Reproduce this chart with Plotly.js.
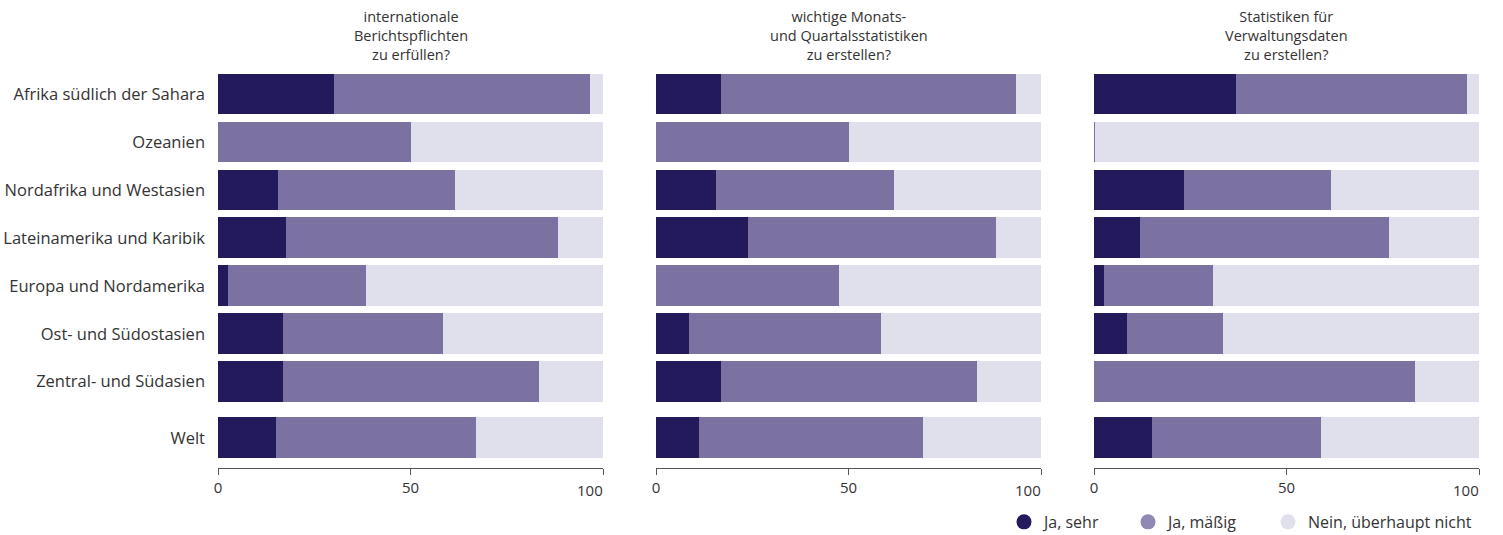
<!DOCTYPE html>
<html>
<head>
<meta charset="utf-8">
<script src="https://cdn.plot.ly/plotly-3.0.1.min.js"></script>
<style>html,body{margin:0;padding:0;background:#fff;}#chart{width:1503px;height:535px;}</style>
</head>
<body>
<div id="chart"></div>
<script>
const categories = ["Afrika südlich der Sahara","Ozeanien","Nordafrika und Westasien","Lateinamerika und Karibik","Europa und Nordamerika","Ost- und Südostasien","Zentral- und Südasien","Welt"];
const seriesNames = ["Ja, sehr","Ja, mäßig","Nein, überhaupt nicht"];
const panelTitles = [
  ["internationale","Berichtspflichten","zu erfüllen?"],
  ["wichtige Monats-","und Quartalsstatistiken","zu erstellen?"],
  ["Statistiken für","Verwaltungsdaten","zu erstellen?"]
];
const xTickVals = [0, 50, 100];

// Panel 1: internationale Berichtspflichten
const p1Sehr   = [30.1, 0.0, 15.6, 17.7, 2.6, 16.9, 16.9, 15.1];
const p1Maessig= [66.5, 50.1, 46.0, 70.6, 35.8, 41.5, 66.5, 51.9];
const p1Nein   = [3.4, 49.9, 38.4, 11.7, 61.6, 41.6, 16.6, 33.0];
// Panel 2: Monats- und Quartalsstatistiken
const p2Sehr   = [16.9, 0.0, 15.6, 23.9, 0.0, 8.6, 16.9, 11.2];
const p2Maessig= [76.6, 50.1, 46.2, 64.4, 47.5, 49.8, 66.5, 58.2];
const p2Nein   = [6.5, 49.9, 38.2, 11.7, 52.5, 41.6, 16.6, 30.6];
// Panel 3: Verwaltungsdaten
const p3Sehr   = [36.9, 0.0, 23.4, 11.9, 2.6, 8.6, 0.0, 15.1];
const p3Maessig= [60.0, 0.3, 38.2, 64.7, 28.3, 24.9, 83.4, 43.9];
const p3Nein   = [3.1, 99.7, 38.4, 23.4, 69.1, 66.5, 16.6, 41.0];

const colors = ["#231a5b","#7c72a2","#e0dfec"];
const legendColors = ["#231a5b","#9088b5","#e0dfec"];
const FONT = "'Open Sans', 'Noto Sans', sans-serif";
const TXT = "#333333";

// layout geometry (pixels)
const ML = 218, MR = 24, MT = 69.5, MB = 67;
const FIG_W = 1503, FIG_H = 535;
const W = FIG_W - ML - MR, H = FIG_H - MT - MB;

// y positions: index, with a small extra gap before "Welt"
const yPos = categories.map((c,i) => i + (c === "Welt" ? 0.17 : 0));

const panels = [[p1Sehr,p1Maessig,p1Nein],[p2Sehr,p2Maessig,p2Nein],[p3Sehr,p3Maessig,p3Nein]];
const xaxes = ["x","x2","x3"];
const traces = [];
panels.forEach((series, pi) => {
  series.forEach((vals, si) => {
    traces.push({
      type: "bar", orientation: "h",
      x: vals, y: yPos,
      xaxis: xaxes[pi], yaxis: "y",
      name: seriesNames[si],
      marker: {color: colors[si], line: {width: 0}},
      width: 0.85,
      showlegend: false,
      hoverinfo: "x+name"
    });
  });
});
// legend entries with circle markers, one legend per entry for exact placement
const legendIds = ["legend","legend2","legend3"];
const legendMarkerPx = [1024, 1148, 1288];
seriesNames.forEach((n, si) => {
  traces.push({
    type: "scatter", mode: "markers", x: [null], y: [null],
    xaxis: "x3", yaxis: "y",
    name: n, marker: {color: legendColors[si], size: 15, symbol: "circle"},
    showlegend: true, legend: legendIds[si]
  });
});

const lastTick = xTickVals[xTickVals.length - 1];
const xBase = {
  range: [0, 100], tickvals: xTickVals,
  ticktext: xTickVals.map(v => v === lastTick ? "" : String(v)),
  showgrid: false, zeroline: false, showline: true, linecolor: "#555", linewidth: 1,
  ticks: "outside", ticklen: 6, tickcolor: "#555", tickwidth: 1,
  tickfont: {family: FONT, size: 15, color: TXT}, fixedrange: true, anchor: "y"
};

const domains = [[0, 385/W], [438/W, 823/W], [876/W, 1]];
const annotations = [];
panelTitles.forEach((lines, i) => {
  annotations.push({
    text: lines.join("<br>"), xref: "paper", yref: "paper",
    x: (domains[i][0] + domains[i][1]) / 2, y: (FIG_H - MB - 34.5) / H,
    xanchor: "center", yanchor: "middle", showarrow: false, align: "center",
    font: {family: FONT, size: 14.5, color: TXT}
  });
});
// last tick label right-aligned at its tick (as in the reference)
xaxes.forEach(ax => {
  annotations.push({
    text: String(lastTick), xref: ax, yref: "paper", x: lastTick,
    y: (FIG_H - MB - 490) / H, xanchor: "right", yanchor: "middle", xshift: 2,
    showarrow: false, font: {family: FONT, size: 15, color: TXT}
  });
});

const legendBase = {
  orientation: "h", xanchor: "left", yanchor: "middle", y: (FIG_H - MB - 522) / H,
  font: {family: FONT, size: 16, color: TXT}, itemsizing: "trace",
  bgcolor: "rgba(0,0,0,0)", borderwidth: 0
};

const layout = {
  width: FIG_W, height: FIG_H,
  margin: {l: ML, r: MR, t: MT, b: MB, pad: 0, autoexpand: false},
  paper_bgcolor: "#fff", plot_bgcolor: "#fff",
  barmode: "stack", bargap: 0,
  font: {family: FONT, color: TXT},
  xaxis:  Object.assign({}, xBase, {domain: domains[0]}),
  xaxis2: Object.assign({}, xBase, {domain: domains[1]}),
  xaxis3: Object.assign({}, xBase, {domain: domains[2]}),
  yaxis: {
    range: [7.8, -0.5], tickvals: yPos, ticktext: categories,
    showgrid: false, zeroline: false, showline: false, ticks: "",
    ticklabelstandoff: 12,
    tickfont: {family: FONT, size: 16.5, color: TXT}, fixedrange: true
  },
  annotations: annotations,
  showlegend: true
};
legendIds.forEach((id, si) => {
  layout[id] = Object.assign({}, legendBase, {x: (legendMarkerPx[si] - 20 - ML) / W});
});

Plotly.newPlot("chart", traces, layout, {displayModeBar: false, staticPlot: true});
</script>
</body>
</html>
